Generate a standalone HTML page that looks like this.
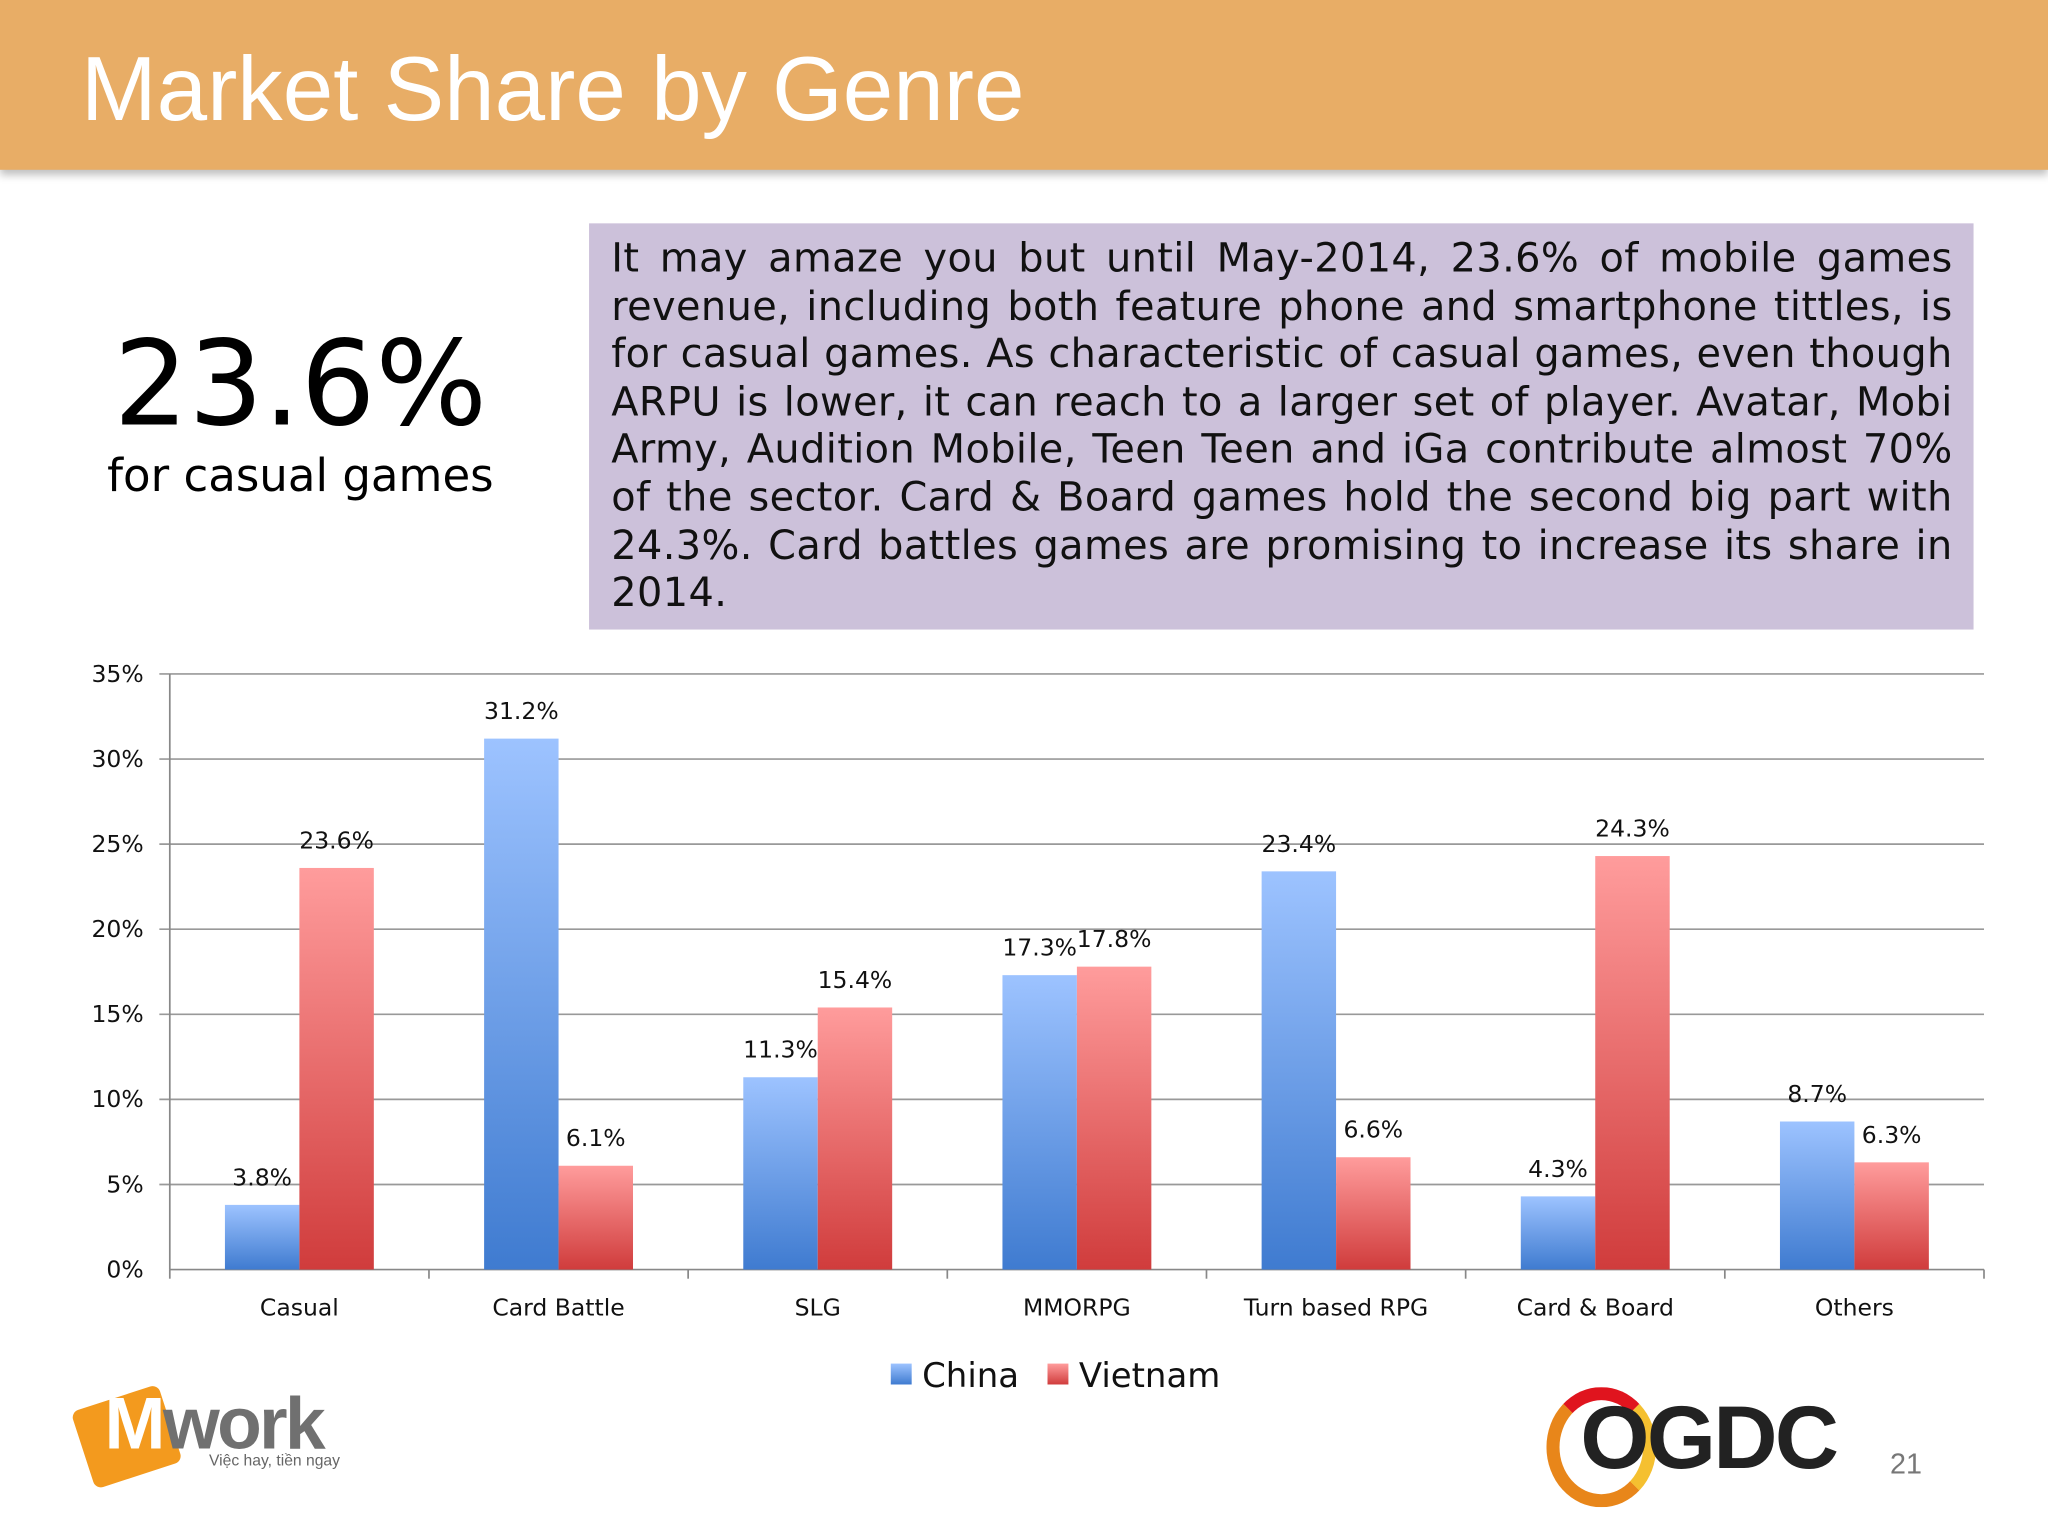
<!DOCTYPE html>
<html><head><meta charset="utf-8"><style>
html,body{margin:0;padding:0;background:#fff;overflow:hidden}
#wrap{position:absolute;left:0;top:0;width:1568px;height:1176px;transform:scale(1.306122);transform-origin:0 0;font-family:"DejaVu Sans","Liberation Sans",sans-serif}
#hdr{position:absolute;left:0;top:0;width:1568px;height:130px;background:#E8AD66;box-shadow:0 4px 6px rgba(0,0,0,.25)}
#title{position:absolute;left:62px;top:28px;font-family:"Liberation Sans",sans-serif;font-size:69.5px;color:#fff;white-space:nowrap}
#big{position:absolute;left:30px;width:400px;text-align:center;top:242px;font-size:90px;color:#000}
#sub{position:absolute;left:30px;width:400px;text-align:center;top:345px;font-size:34.5px;color:#000}
#box{position:absolute;left:451px;top:171px;width:1060px;height:311px;background:#CCC1DA;box-sizing:border-box;padding:10px 16px 0 17px;font-size:30.5px;line-height:36.6px;text-align:justify;color:#111;letter-spacing:.3px}
</style></head><body>
<div id="wrap">
<div id="hdr"><div id="title">Market Share by Genre</div></div>
<div id="big">23.6%</div>
<div id="sub">for casual games</div>
<div id="box">It may amaze you but until May-2014, 23.6% of mobile games revenue, including both feature phone and smartphone tittles, is for casual games. As characteristic of casual games, even though ARPU is lower, it can reach to a larger set of player. Avatar, Mobi Army, Audition Mobile, Teen Teen and iGa contribute almost 70% of the sector. Card &amp; Board games hold the second big part with 24.3%. Card battles games are promising to increase its share in 2014.</div>
<svg id="chart" width="1568" height="1176" style="position:absolute;left:0;top:0">
<defs>
<linearGradient id="gb" x1="0" y1="0" x2="0" y2="1"><stop offset="0" stop-color="#9DC3FF"/><stop offset="1" stop-color="#3F7BD0"/></linearGradient>
<linearGradient id="gr" x1="0" y1="0" x2="0" y2="1"><stop offset="0" stop-color="#FF9C9C"/><stop offset="1" stop-color="#D03C3C"/></linearGradient>
</defs>
<g id="g"></g>
</svg>
<div style="position:absolute;left:58px;top:1055px;width:210px;height:80px">
<div style="position:absolute;left:4px;top:14px;width:70px;height:62px;background:#F39A1E;transform:rotate(-18deg);border-radius:6px"></div>
<div style="position:absolute;left:22px;top:2px;font:bold 56px 'Liberation Sans',sans-serif;color:#707070;letter-spacing:-2px"><span style="color:#fff">M</span>work</div>
<div style="position:absolute;left:102px;top:56px;font:12px 'Liberation Sans',sans-serif;color:#666">Việc hay, tiền ngay</div>
</div>
<div style="position:absolute;left:1180px;top:1050px;width:240px;height:110px">
<div style="position:absolute;left:4px;top:12px;width:84px;height:92px;border-radius:50%;border:10px solid #E8861A;border-top-color:#E0141E;border-right-color:#F5C030;box-sizing:border-box"></div>
<div style="position:absolute;left:30px;top:12px;font:bold 68px 'Liberation Sans',sans-serif;color:#222;letter-spacing:-2px">OGDC</div>
</div>
<div style="position:absolute;left:1447px;top:1108px;font:22px 'Liberation Sans',sans-serif;color:#777">21</div>
</div>
<script>
const categories=["Casual","Card Battle","SLG","MMORPG","Turn based RPG","Card & Board","Others"];
const china=[3.8,31.2,11.3,17.3,23.4,4.3,8.7];
const vietnam=[23.6,6.1,15.4,17.8,6.6,24.3,6.3];
const yTicks=[0,5,10,15,20,25,30,35];
const NS="http://www.w3.org/2000/svg";
const g=document.getElementById('g');
const X0=130,X1=1519,Y0=972,Y1=516,YMAX=35;
const y=v=>Y0-(v/YMAX)*(Y0-Y1);
const band=(X1-X0)/categories.length;
const cx=i=>X0+band*(i+0.5);
function el(t,a){const e=document.createElementNS(NS,t);for(const k in a)e.setAttribute(k,a[k]);g.appendChild(e);return e;}
yTicks.forEach(t=>{
 const l=el('line',{x1:t===0?X0:X0-8,x2:X1,y1:y(t),y2:y(t),stroke:t===0?'#888':'#999','stroke-width':1.3});
 
 
 const tx=el('text',{x:110,y:y(t)+6,'text-anchor':'end','font-size':18,'font-family':'DejaVu Sans,Liberation Sans,sans-serif',fill:'#111'});
 tx.textContent=t+'%';
 
 
});
const ax=el('line',{x1:X0,x2:X0,y1:Y1,y2:Y0,stroke:'#888','stroke-width':1.3});


for(let i=0;i<=categories.length;i++){const t=el('line',{x1:X0+band*i,x2:X0+band*i,y1:Y0,y2:Y0+7,stroke:'#888','stroke-width':1.3});
 
 }
const bw=57;
categories.forEach((c,i)=>{
 [[china,'gb',-bw],[vietnam,'gr',0]].forEach(([arr,f,off],k)=>{
  const v=arr[i];
  const r=el('rect',{x:cx(i)+off,y:y(v),width:bw,height:Y0-y(v),fill:'url(#'+f+')'});
  
  
  const t=el('text',{x:cx(i)+off+bw/2,y:y(v)-15,'text-anchor':'middle','font-size':18,'font-family':'DejaVu Sans,Liberation Sans,sans-serif',fill:'#111'});
  t.textContent=v.toFixed(1)+'%';
  
  
 });
 const t=el('text',{x:cx(i),y:1007,'text-anchor':'middle','font-size':18,'font-family':'DejaVu Sans,Liberation Sans,sans-serif',fill:'#111'});
 t.textContent=c;
 
 
});
[['China','gb',682],['Vietnam','gr',802]].forEach(([n,f,x])=>{
 const r=el('rect',{x:x,y:1044,width:16,height:16,fill:'url(#'+f+')'});
 
 
 const t=el('text',{x:x+24,y:1062,'font-size':26,'font-family':'DejaVu Sans,Liberation Sans,sans-serif',fill:'#111'});
 t.textContent=n;
 
 
});
</script>
</body></html>
